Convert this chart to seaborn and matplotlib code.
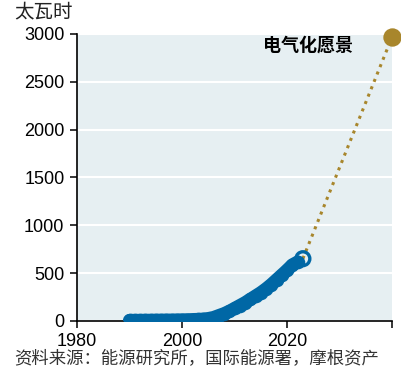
import matplotlib
matplotlib.use("Agg")
import matplotlib.pyplot as plt
import seaborn as sns
import pandas as pd

# Historical series (TWh), 1990-2023
years = list(range(1990, 2024))
values = [5, 5, 5, 6, 6, 7, 7, 8, 8, 9,
          10, 11, 13, 15, 18, 24, 35, 55, 75, 100,
          130, 160, 190, 225, 260, 295, 335, 380, 430, 480,
          530, 585, 615, 650]

# Projection to the electrification vision
vision_years = [2023, 2040]
vision_values = [650, 2970]

x_ticks = [1980, 2000, 2020, 2040]
x_tick_labels = ["1980", "2000", "2020", ""]
y_ticks = [0, 500, 1000, 1500, 2000, 2500, 3000]

sns.set_theme(style="white")
plt.rcParams["font.family"] = ["Liberation Sans", "Noto Sans CJK SC", "DejaVu Sans"]

blue = "#0067a5"
gold = "#a8862c"
bg = "#e6eff2"

fig = plt.figure(figsize=(4.01, 3.68), dpi=100)
ax = fig.add_axes([0.192, 0.128, 0.786, 0.78])
ax.set_facecolor(bg)

hist = pd.DataFrame({"year": years, "value": values})
proj = pd.DataFrame({"year": vision_years, "value": vision_values})
filled = hist.iloc[:-1]

sns.lineplot(data=proj, x="year", y="value", ax=ax, color=gold,
             linestyle=(0, (1, 1.6)), linewidth=2.2, zorder=2)
# thick band joining the historical points
sns.lineplot(data=filled, x="year", y="value", ax=ax, color=blue,
             linewidth=9.5, solid_capstyle="round", solid_joinstyle="round",
             zorder=3)
sns.scatterplot(data=filled, x="year", y="value", ax=ax, color=blue,
                s=95, linewidth=0, zorder=3)
ax.scatter(hist["year"].iloc[-1:], hist["value"].iloc[-1:], s=100,
           facecolor="none", edgecolor=blue, linewidth=2.4, zorder=4)
ax.scatter(proj["year"].iloc[-1:], proj["value"].iloc[-1:], s=175,
           color=gold, zorder=5, clip_on=False, linewidth=0)

ax.set_xlim(1980, 2040)
ax.set_ylim(0, 3000)
ax.set_xticks(x_ticks)
ax.set_xticklabels(x_tick_labels)
ax.set_yticks(y_ticks)
ax.yaxis.grid(True, color="white", linewidth=1.5)
ax.xaxis.grid(False)
ax.set_axisbelow(True)

for side in ["top", "right"]:
    ax.spines[side].set_visible(False)
for side in ["left", "bottom"]:
    ax.spines[side].set_color("black")
    ax.spines[side].set_linewidth(1.2)

ax.tick_params(axis="both", which="major", direction="out", length=5,
               width=1.1, color="black", labelsize=13, labelcolor="black",
               left=True, bottom=True, pad=4)
ax.set_xlabel("")
ax.set_ylabel("")

fig.text(0.035, 0.995, "太瓦时", fontsize=14, va="top", ha="left",
         family=["Noto Sans CJK SC"], color="#222222")
ax.text(2032.5, 2880, "电气化愿景", fontsize=13, fontweight="bold",
        ha="right", va="center", family=["Noto Sans CJK SC"], color="black")
fig.text(0.035, 0.003, "资料来源：能源研究所，国际能源署，摩根资产",
         fontsize=12.5, va="bottom", ha="left", family=["Noto Sans CJK SC"],
         color="#333333")

fig.savefig("out.png", dpi=100)
